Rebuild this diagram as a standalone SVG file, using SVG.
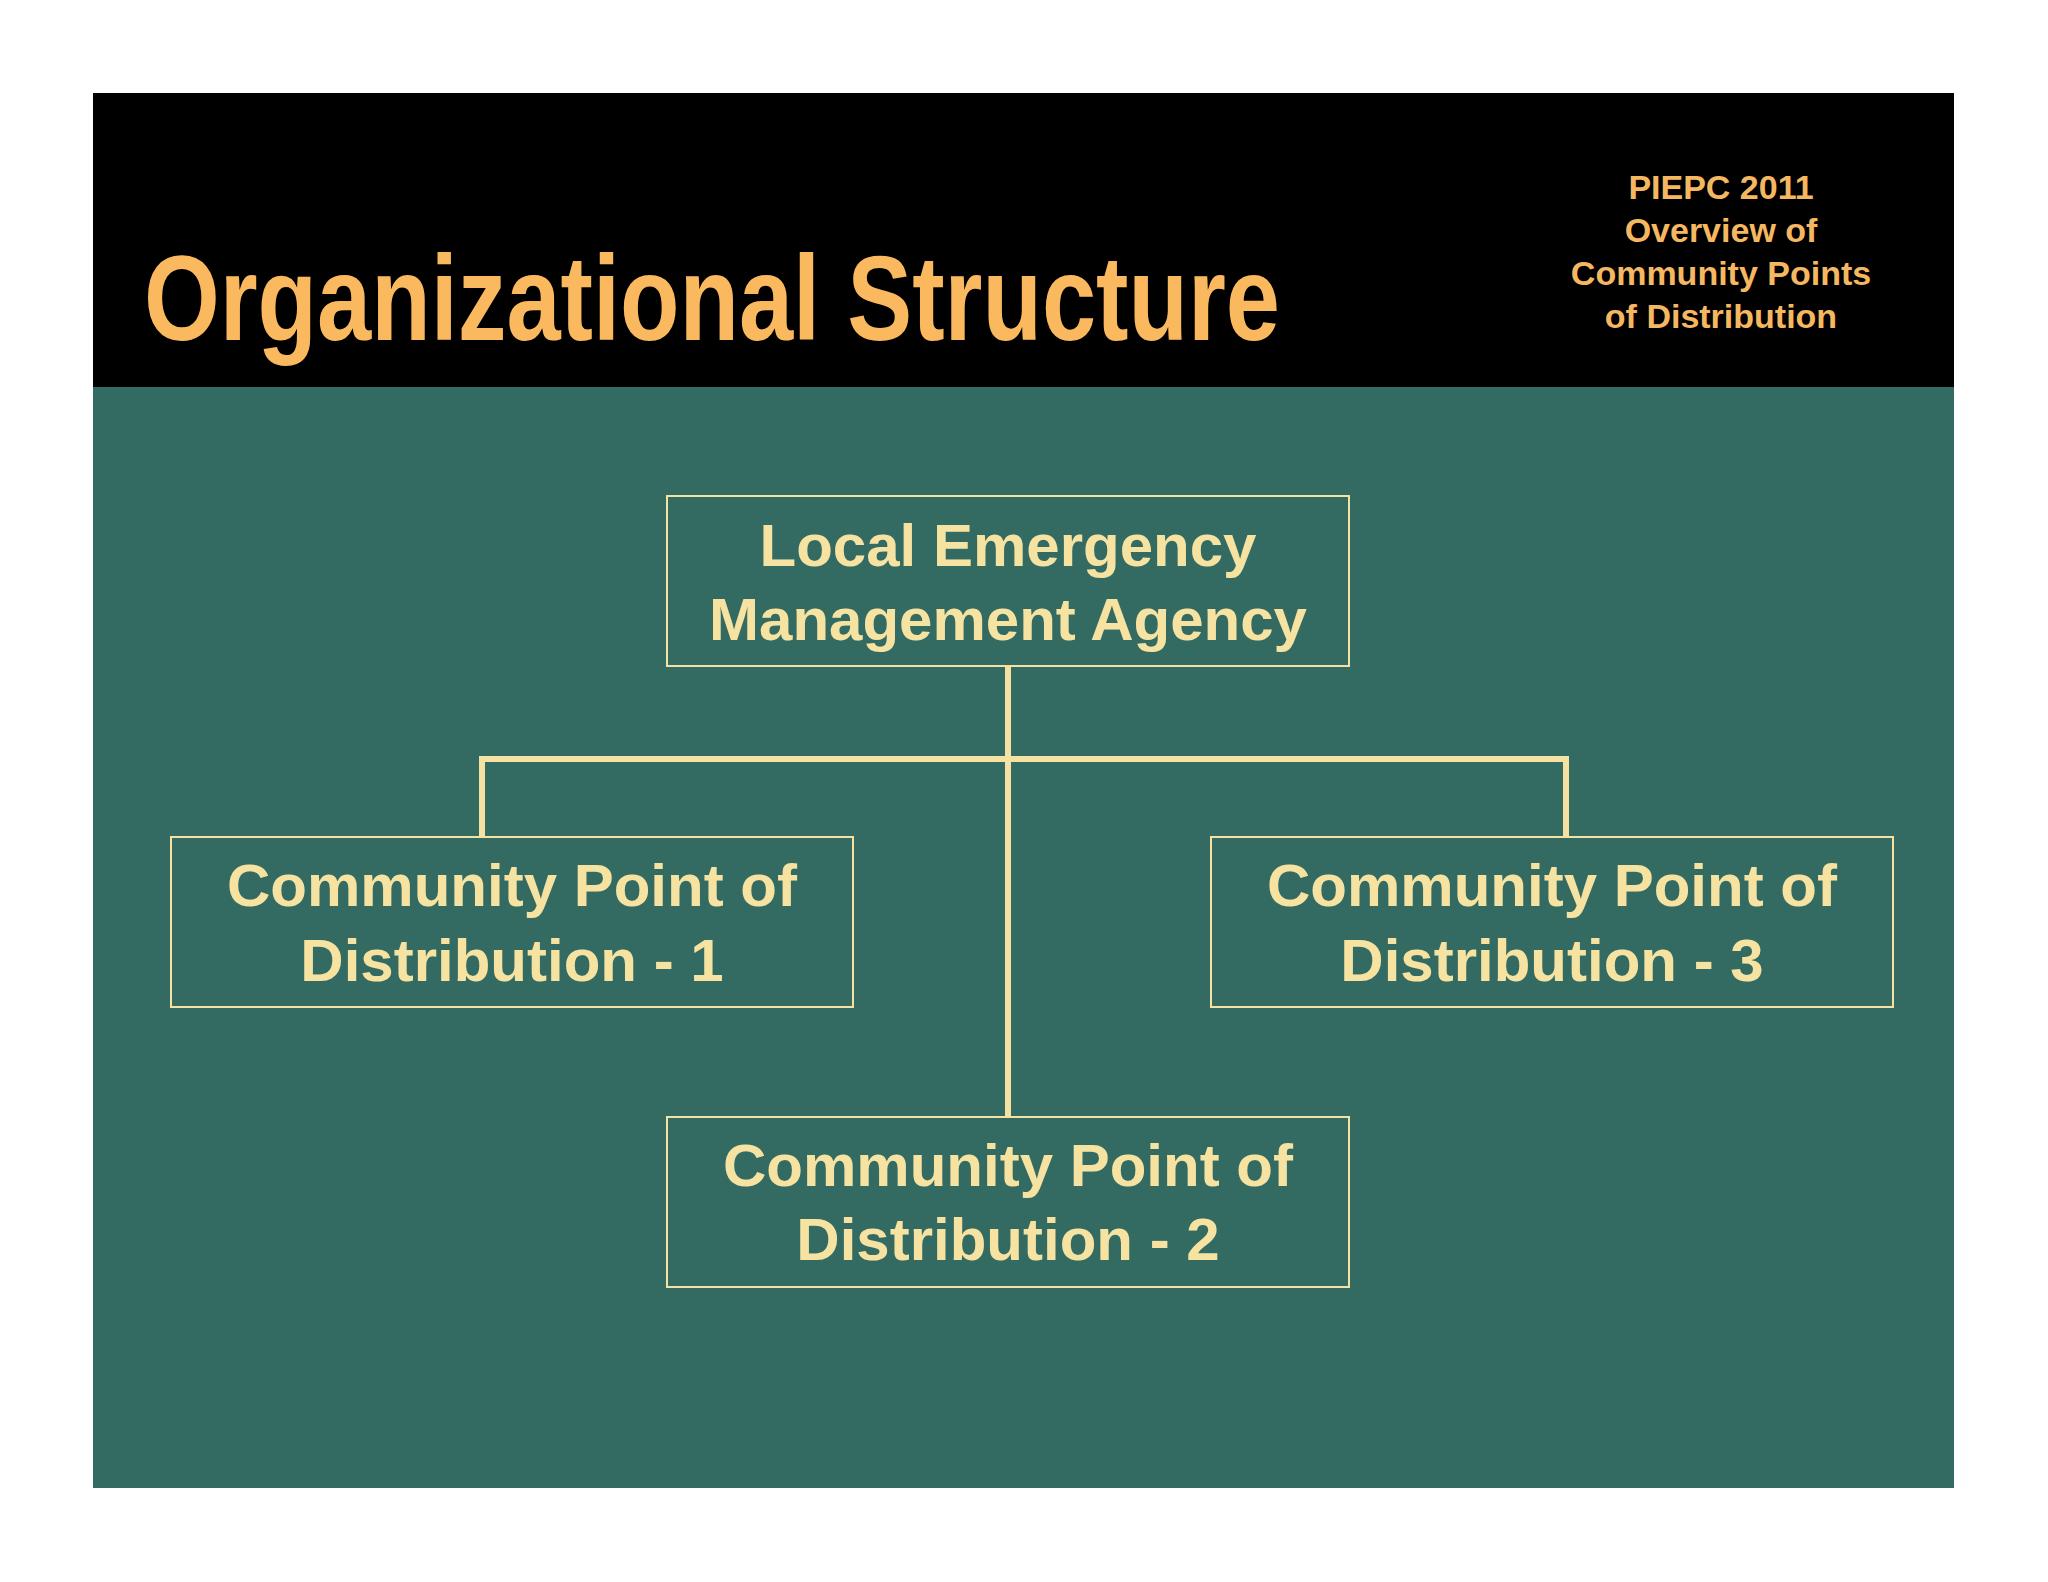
<svg xmlns="http://www.w3.org/2000/svg" width="2048" height="1582" viewBox="0 0 2048 1582">
<style>
.box{fill:none;stroke:#f5e2a2;stroke-width:2}
.t{font-family:"Liberation Sans",Arial,sans-serif;font-weight:bold;font-size:60px;fill:#f7e3a1;text-anchor:middle}
.c{stroke:#f5e2a2;stroke-width:6;fill:none}
</style>
<rect width="2048" height="1582" fill="#ffffff"/>
<rect x="93" y="93" width="1861" height="295" fill="#000000"/>
<rect x="93" y="387" width="1861" height="1101" fill="#336b63"/>
<text x="144" y="340" font-family="Liberation Sans,Arial,sans-serif" font-weight="bold" font-size="120" fill="#fbb95f" textLength="1136" lengthAdjust="spacingAndGlyphs">Organizational Structure</text>
<g font-family="Liberation Sans,Arial,sans-serif" font-weight="bold" font-size="34" fill="#f5b860" text-anchor="middle">
<text x="1721" y="199">PIEPC 2011</text>
<text x="1721" y="242">Overview of</text>
<text x="1721" y="285">Community Points</text>
<text x="1721" y="328">of Distribution</text>
</g>
<g id="connectors">
<path class="c" d="M1008 666V1117M482 837V759H1566V837"/>
</g>
<g id="lema"><rect class="box" x="667" y="496" width="682" height="170"/><text class="t" x="1008" y="566">Local Emergency</text><text class="t" x="1008" y="640">Management Agency</text></g>
<g id="cpod1"><rect class="box" x="171" y="837" width="682" height="170"/><text class="t" x="512" y="906">Community Point of</text><text class="t" x="512" y="981">Distribution - 1</text></g>
<g id="cpod3"><rect class="box" x="1211" y="837" width="682" height="170"/><text class="t" x="1552" y="906">Community Point of</text><text class="t" x="1552" y="981">Distribution - 3</text></g>
<g id="cpod2"><rect class="box" x="667" y="1117" width="682" height="170"/><text class="t" x="1008" y="1186">Community Point of</text><text class="t" x="1008" y="1260">Distribution - 2</text></g>
</svg>
